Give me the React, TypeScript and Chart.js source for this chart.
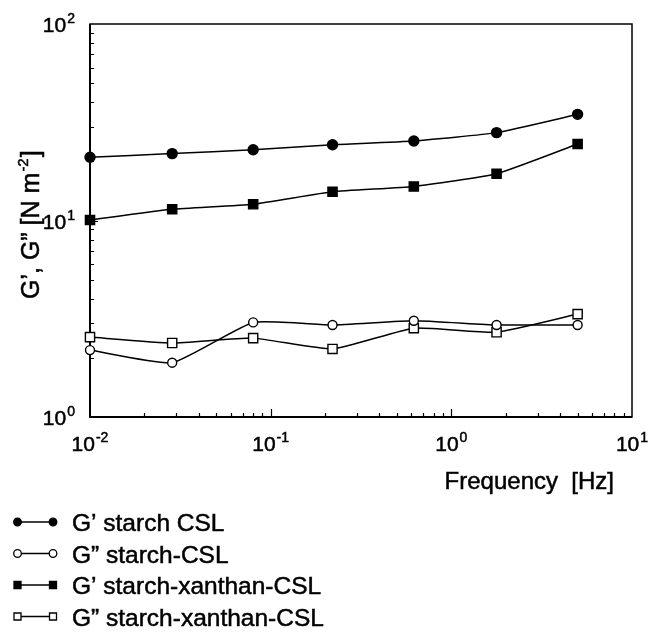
import React, { useEffect, useRef } from 'react';
import { Chart, registerables } from 'chart.js';

Chart.register(...registerables);

// ---- data ----
const frequencyHz = [0.01, 0.0285, 0.08, 0.22, 0.62, 1.78, 5.0];
const gPrimeStarch = [21.0, 21.9, 22.9, 24.3, 25.4, 28.0, 34.7];
const gDoublePrimeStarch = [2.19, 1.89, 3.03, 2.94, 3.09, 2.94, 2.94];
const gPrimeXanthan = [10.06, 11.4, 12.1, 14.0, 14.9, 17.3, 24.5];
const gDoublePrimeXanthan = [2.55, 2.38, 2.52, 2.22, 2.83, 2.7, 3.34];

const seriesLabels = [
  'G’ starch CSL',
  'G” starch-CSL',
  'G’ starch-xanthan-CSL',
  'G” starch-xanthan-CSL',
];

const xTickValues = [0.01, 0.1, 1, 10];
const xTickExponents = ['-2', '-1', '0', '1'];
const yTickValues = [1, 10, 100];
const yTickExponents = ['0', '1', '2'];

const xTitle = 'Frequency  [Hz]';
const yTitleMain = 'G’, G” [N m';
const yTitleExp = '-2';
const yTitleEnd = ']';

const FONT = "'Liberation Sans', Arial, Helvetica, sans-serif";

function boldText(ctx: CanvasRenderingContext2D, t: string, x: number, y: number) {
  ctx.fillText(t, x, y);
  ctx.lineWidth = 0.5;
  ctx.strokeStyle = '#000';
  ctx.strokeText(t, x, y);
}

function drawPow(ctx: CanvasRenderingContext2D, x: number, y: number, exp: string, align: 'right' | 'center') {
  ctx.font = `21px ${FONT}`;
  const w1 = ctx.measureText('10').width;
  ctx.font = `14px ${FONT}`;
  const w2 = ctx.measureText(exp).width;
  const total = w1 + 1 + w2;
  const x0 = align === 'right' ? x - total : x - total / 2;
  ctx.textAlign = 'left';
  ctx.textBaseline = 'alphabetic';
  ctx.font = `21px ${FONT}`;
  boldText(ctx, '10', x0, y);
  ctx.font = `14px ${FONT}`;
  boldText(ctx, exp, x0 + w1 + 1, y - 9);
}

function minorValues(min: number, max: number): { v: number; major: boolean }[] {
  const out: { v: number; major: boolean }[] = [];
  const e0 = Math.floor(Math.log10(min));
  const e1 = Math.ceil(Math.log10(max));
  for (let e = e0; e <= e1; e++) {
    for (let m = 1; m <= 9; m++) {
      const v = m * Math.pow(10, e);
      if (v > min * 1.0001 && v < max * 0.9999) out.push({ v, major: m === 1 });
    }
  }
  return out;
}

const decorPlugin = {
  id: 'decor',
  beforeDatasetsDraw(chart: any) {
    const { ctx, chartArea: a, scales } = chart;
    const xs = scales.x;
    const ys = scales.y;
    ctx.save();
    ctx.strokeStyle = '#000';
    ctx.lineWidth = 1.5;
    ctx.strokeRect(a.left, a.top, a.right - a.left, a.bottom - a.top);
    ctx.lineWidth = 2;
    ctx.beginPath();
    ctx.moveTo(a.left, a.top);
    ctx.lineTo(a.left, a.bottom);
    ctx.lineTo(a.right, a.bottom);
    ctx.stroke();
    ctx.lineWidth = 1.2;
    ctx.beginPath();
    for (const t of minorValues(xs.min, xs.max)) {
      const px = Math.round(xs.getPixelForValue(t.v)) + 0.5;
      const len = t.major ? 8 : 4;
      ctx.moveTo(px, a.bottom);
      ctx.lineTo(px, a.bottom - len);
    }
    for (const t of minorValues(ys.min, ys.max)) {
      const py = Math.round(ys.getPixelForValue(t.v)) + 0.5;
      const len = t.major ? 8 : 4;
      ctx.moveTo(a.left, py);
      ctx.lineTo(a.left + len, py);
    }
    ctx.stroke();
    ctx.restore();
  },
  afterDraw(chart: any) {
    const { ctx, chartArea: a, scales } = chart;
    const xs = scales.x;
    const ys = scales.y;
    ctx.save();
    ctx.fillStyle = '#000';
    // y tick labels
    yTickValues.forEach((v, i) => {
      const py = ys.getPixelForValue(v);
      drawPow(ctx, a.left - 15, py + 8, yTickExponents[i], 'right');
    });
    // x tick labels
    xTickValues.forEach((v, i) => {
      const px = xs.getPixelForValue(v);
      drawPow(ctx, px, a.bottom + 34, xTickExponents[i], 'center');
    });
    // x title
    ctx.font = `24px ${FONT}`;
    ctx.textAlign = 'right';
    ctx.textBaseline = 'alphabetic';
    boldText(ctx, xTitle, a.right - 18, 489);
    // y title (rotated)
    ctx.save();
    ctx.translate(39, 299);
    ctx.rotate(-Math.PI / 2);
    ctx.textAlign = 'left';
    ctx.font = `25px ${FONT}`;
    boldText(ctx, yTitleMain, 0, 0);
    let w = ctx.measureText(yTitleMain).width;
    ctx.font = `15px ${FONT}`;
    boldText(ctx, yTitleExp, w + 1, -11);
    w += ctx.measureText(yTitleExp).width + 2;
    ctx.font = `25px ${FONT}`;
    boldText(ctx, yTitleEnd, w, 0);
    ctx.restore();

    // legend
    const datasets = chart.data.datasets;
    datasets.forEach((ds: any, i: number) => {
      const base = 531 + i * 31.5;
      const cy = base - 9;
      const x1 = 17.5;
      const x2 = 53;
      ctx.strokeStyle = '#000';
      ctx.lineWidth = 1.3;
      ctx.beginPath();
      ctx.moveTo(x1, cy);
      ctx.lineTo(x2, cy);
      ctx.stroke();
      [x1, x2].forEach((mx) => {
        ctx.beginPath();
        if (ds.pointStyle === 'rect') {
          ctx.rect(mx - 3.5, cy - 3.5, 7, 7);
        } else {
          ctx.arc(mx, cy, 3.8, 0, Math.PI * 2);
        }
        ctx.fillStyle = ds.pointBackgroundColor;
        ctx.fill();
        ctx.lineWidth = 1.3;
        ctx.strokeStyle = '#000';
        ctx.stroke();
      });
      ctx.fillStyle = '#000';
      ctx.font = `24.5px ${FONT}`;
      ctx.textAlign = 'left';
      ctx.textBaseline = 'alphabetic';
      boldText(ctx, ds.label, 72, base);
    });
    ctx.restore();
  },
};

function makeSeries(values: number[], label: string, filled: boolean, style: string) {
  return {
    label,
    data: frequencyHz.map((f, i) => ({ x: f, y: values[i] })),
    borderColor: '#000',
    borderWidth: 1.5,
    backgroundColor: filled ? '#000' : '#fff',
    pointBackgroundColor: filled ? '#000' : '#fff',
    pointBorderColor: '#000',
    pointBorderWidth: 1.4,
    pointStyle: style,
    pointRadius: style === 'rect' ? 6.5 : filled ? 5 : 4.5,
    tension: 0.15,
    fill: false,
    clip: false as any,
  };
}

export default function App() {
  const ref = useRef<HTMLCanvasElement | null>(null);
  useEffect(() => {
    if (!ref.current) return;
    const chart = new Chart(ref.current, {
      type: 'line',
      data: {
        datasets: [
          makeSeries(gPrimeStarch, seriesLabels[0], true, 'circle'),
          makeSeries(gDoublePrimeStarch, seriesLabels[1], false, 'circle'),
          makeSeries(gPrimeXanthan, seriesLabels[2], true, 'rect'),
          makeSeries(gDoublePrimeXanthan, seriesLabels[3], false, 'rect'),
        ] as any,
      },
      options: {
        animation: false,
        responsive: false,
        devicePixelRatio: 1,
        layout: { padding: { left: 90, top: 24, right: 16, bottom: 222 } },
        plugins: { legend: { display: false }, tooltip: { enabled: false } },
        scales: {
          x: { type: 'logarithmic', min: 0.01, max: 10, display: false },
          y: { type: 'logarithmic', min: 1, max: 100, display: false },
        },
      },
      plugins: [decorPlugin],
    });
    return () => chart.destroy();
  }, []);
  return (
    <div style={{ position: 'fixed', left: 0, top: 0, width: 648, height: 639, background: '#fff' }}>
      <canvas ref={ref} width={648} height={639} style={{ width: 648, height: 639 }} />
    </div>
  );
}
